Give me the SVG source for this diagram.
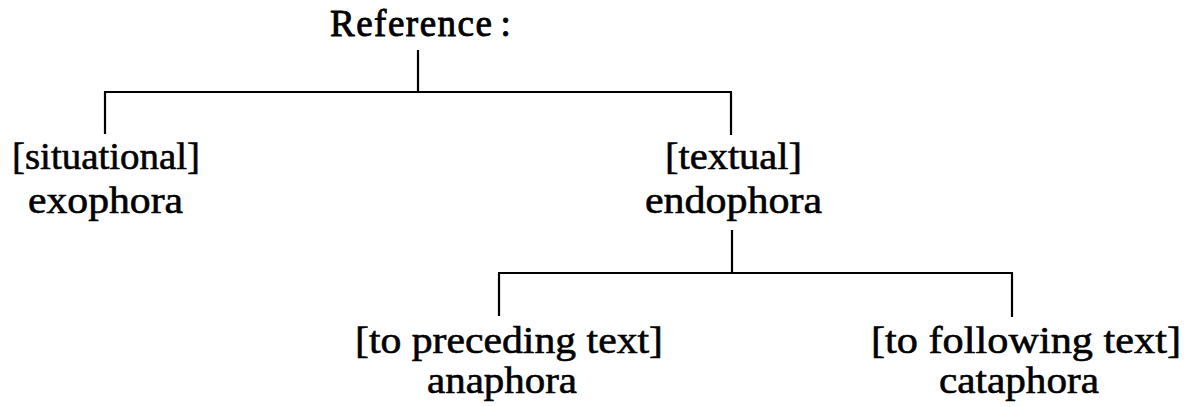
<svg xmlns="http://www.w3.org/2000/svg" width="1184" height="407" viewBox="0 0 1184 407">
<style>
  text { font-family: "Liberation Serif", "Times New Roman", serif; font-size: 38px; fill: #000; stroke: #000; stroke-width: 0.6; text-anchor: middle; }
  .title { font-size: 37px; letter-spacing: 1.5px; text-anchor: start; stroke-width: 0.9; }
  .conn line { stroke: #000; stroke-width: 2.2; fill: none; }
</style>
<rect width="1184" height="407" fill="#fff"/>
<g id="connectors" class="conn">
  <line x1="418" y1="50" x2="418" y2="92"/>
  <line x1="104" y1="92" x2="732" y2="92"/>
  <line x1="105" y1="92" x2="105" y2="134"/>
  <line x1="731" y1="92" x2="731" y2="135"/>
  <line x1="732" y1="230" x2="732" y2="273"/>
  <line x1="498" y1="273" x2="1013" y2="273"/>
  <line x1="499" y1="273" x2="499" y2="316"/>
  <line x1="1012" y1="273" x2="1012" y2="317"/>
</g>
<g id="node-reference">
  <text class="title" x="330" y="36">Reference<tspan dx="7">:</tspan></text>
</g>
<g id="node-exophora">
  <text x="106" y="169" textLength="188" lengthAdjust="spacingAndGlyphs">[situational]</text>
  <text x="105.5" y="213" textLength="155" lengthAdjust="spacingAndGlyphs">exophora</text>
</g>
<g id="node-endophora">
  <text x="733.5" y="169" textLength="137" lengthAdjust="spacingAndGlyphs">[textual]</text>
  <text x="733.5" y="213" textLength="177" lengthAdjust="spacingAndGlyphs">endophora</text>
</g>
<g id="node-anaphora">
  <text x="509" y="353" textLength="308" lengthAdjust="spacingAndGlyphs">[to preceding text]</text>
  <text x="502" y="393" textLength="150" lengthAdjust="spacingAndGlyphs">anaphora</text>
</g>
<g id="node-cataphora">
  <text x="1026" y="353" textLength="310" lengthAdjust="spacingAndGlyphs">[to following text]</text>
  <text x="1019" y="393" textLength="160" lengthAdjust="spacingAndGlyphs">cataphora</text>
</g>
</svg>
